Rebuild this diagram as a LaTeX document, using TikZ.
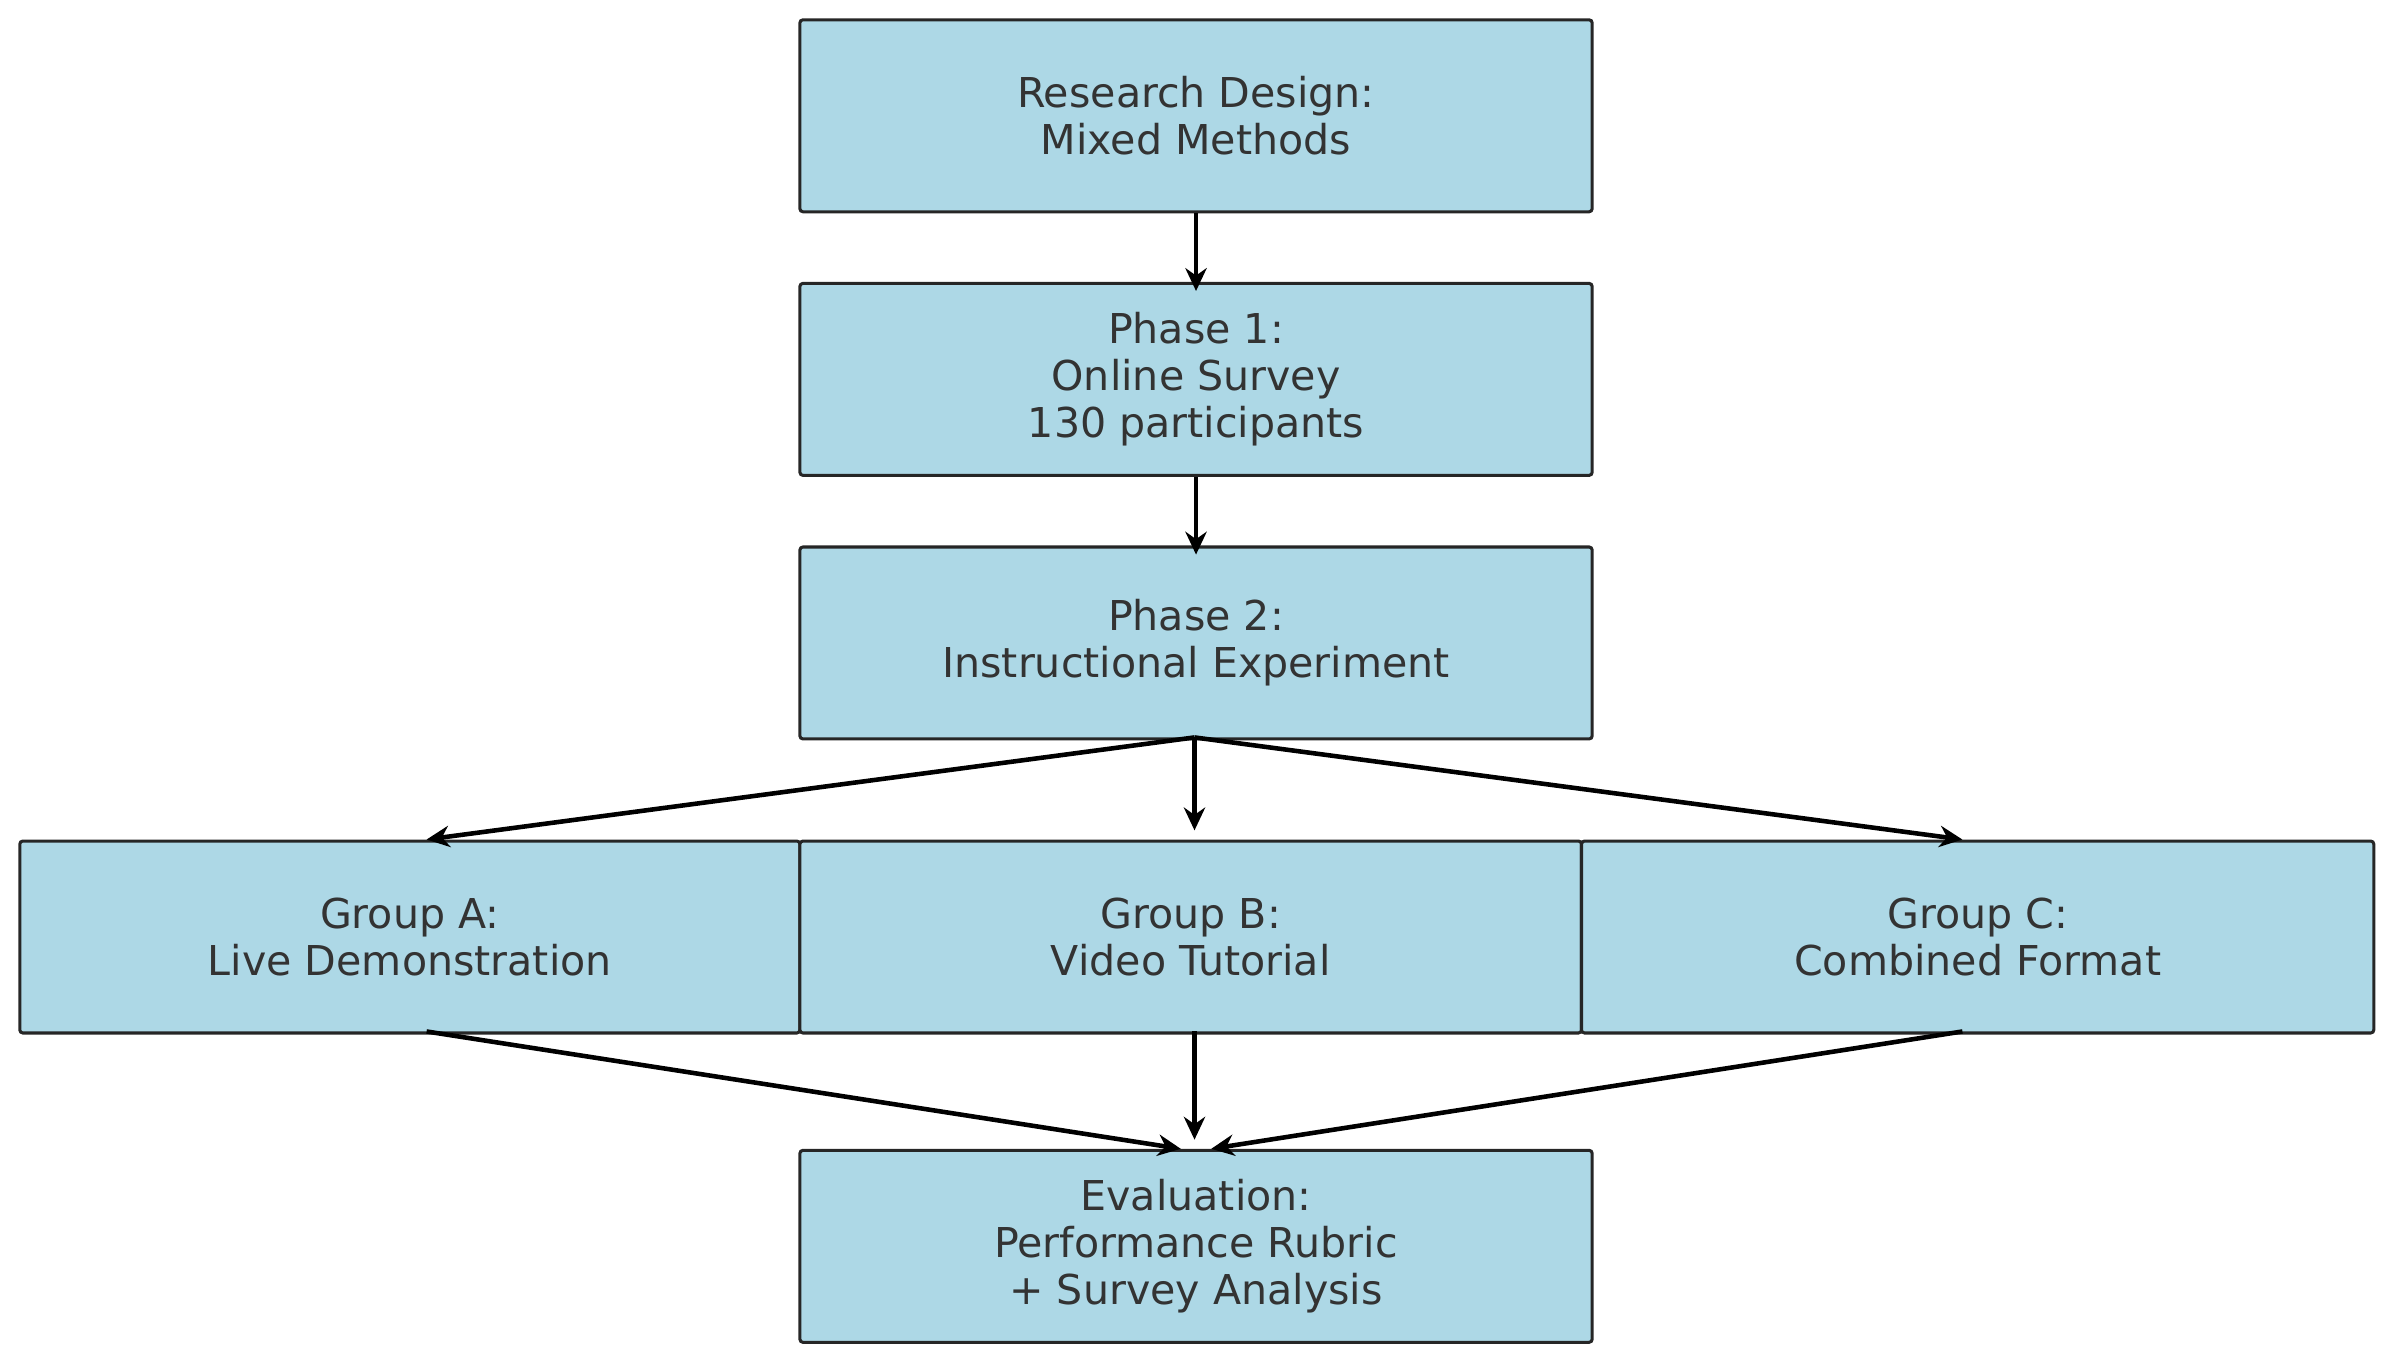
\documentclass[tikz,border=0pt]{standalone}
\usepackage{fontspec}
\setmainfont{DejaVu Sans}
\usetikzlibrary{arrows.meta}
\definecolor{boxblue}{HTML}{ADD8E6}
\definecolor{txt}{HTML}{333333}
\begin{document}
\begin{tikzpicture}[x=1pt,y=-1pt,
  box/.style={draw=black!85,line width=2pt,fill=boxblue,rounded corners=2pt,minimum width=520pt,minimum height=126pt,anchor=north west,inner sep=0pt,align=center,text=txt,font=\fontsize{27}{31}\selectfont},
  arr/.style={-{Stealth[length=15pt,width=14pt]},line width=3pt,black}]
\useasboundingbox (0,0) rectangle (1568,899);
\node[box] (rd) at (524,12) {Research Design:\\Mixed Methods};
\node[box] (p1) at (524,185) {Phase 1:\\Online Survey\\130 participants};
\node[box] (p2) at (524,358) {Phase 2:\\Instructional Experiment};
\node[box,minimum width=512pt] (ga) at (12,551) {Group A:\\Live Demonstration};
\node[box,minimum width=513pt] (gb) at (524,551) {Group B:\\Video Tutorial};
\node[box] (gc) at (1037,551) {Group C:\\Combined Format};
\node[box] (ev) at (524,754) {Evaluation:\\Performance Rubric\\+ Survey Analysis};
\coordinate (ea) at (775,754);
\coordinate (eb) at (784,748);
\coordinate (ec) at (795,754);
\coordinate (ta) at (280,551);
\coordinate (tb) at (784,545);
\coordinate (tc) at (1288,551);
\coordinate (sa) at (280,677);
\coordinate (sb) at (784,677);
\coordinate (sc) at (1288,677);
\coordinate (sp) at (784,484);
\draw[arr] (rd.south) -- ([yshift=-6pt]p1.north);
\draw[arr] (p1.south) -- ([yshift=-6pt]p2.north);
\draw[arr] (sp) -- (ta);
\draw[arr] (sp) -- (tb);
\draw[arr] (sp) -- (tc);
\draw[arr] (sa) -- (ea);
\draw[arr] (sb) -- (eb);
\draw[arr] (sc) -- (ec);
\end{tikzpicture}
\end{document}
